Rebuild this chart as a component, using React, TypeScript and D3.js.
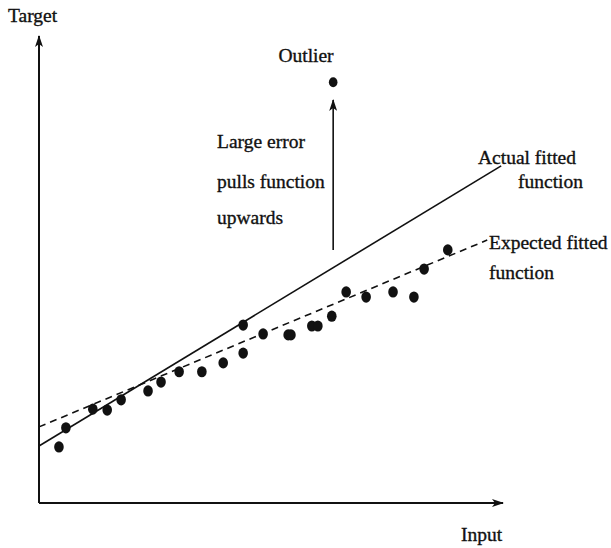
import * as d3 from 'd3';

// data (arbitrary units, 0..100 on both axes)
const pointX = [4.3, 5.8, 11.6, 14.7, 17.7, 23.5, 26.3, 30.2, 35.1, 39.7, 44.0, 44.0, 48.3, 53.7, 54.3, 58.8, 60.1, 63.1, 66.2, 70.5, 76.3, 80.8, 83.0, 88.1]
const pointY = [12.0, 16.1, 20.1, 19.9, 22.1, 24.0, 25.9, 28.1, 28.1, 30.0, 32.1, 38.1, 36.2, 36.0, 36.0, 37.9, 37.9, 40.0, 45.2, 44.1, 45.2, 44.1, 50.1, 54.2]
const outlier = [63.4, 90.1]
const outlierArrowFrom = 54.2
const outlierArrowTo = 86.3

// fitted lines as [x, y] endpoints
const actualLine: [number, number][] = [[0, 12.2], [99.6, 72.2]]
const expectedLine: [number, number][] = [[0, 16.3], [96.6, 56.3]]

const width = 611
const height = 548

const x = d3.scaleLinear().domain([0, 100]).range([39, 503])
const y = d3.scaleLinear().domain([0, 100]).range([503, 36])

const line = d3.line<[number, number]>()
    .x(d => x(d[0]))
    .y(d => y(d[1]))

const font = '"Liberation Serif", "Times New Roman", serif'

const App = () => {
    const points = pointX.map((px, i) => ({ x: px, y: pointY[i] }))

    return (
        <svg width={width} height={height} style={{ position: 'absolute', left: 0, top: 0, background: '#fff' }}>
            <defs>
                <marker id="arrow" viewBox="0 0 12 8" refX="11" refY="4" markerWidth="12" markerHeight="8" markerUnits="userSpaceOnUse" orient="auto">
                    <path d="M0,0 L12,4 L0,8 L3,4 Z" fill="#111" />
                </marker>
            </defs>

            {/* axes */}
            <line x1={x(0)} y1={y(0)} x2={x(0)} y2={y(100)} stroke="#111" strokeWidth={2} markerEnd="url(#arrow)" />
            <line x1={x(0)} y1={y(0)} x2={x(100)} y2={y(0)} stroke="#111" strokeWidth={2} markerEnd="url(#arrow)" />

            {/* fitted functions */}
            <path d={line(actualLine) ?? ''} fill="none" stroke="#111" strokeWidth={1.6} />
            <path d={line(expectedLine) ?? ''} fill="none" stroke="#111" strokeWidth={1.6} strokeDasharray="7,5" />

            {/* data */}
            {points.map((p, i) => (
                <ellipse key={i} cx={x(p.x)} cy={y(p.y)} rx={4.8} ry={5.6} fill="#111" />
            ))}
            <ellipse cx={x(outlier[0])} cy={y(outlier[1])} rx={4.3} ry={4.9} fill="#111" />

            {/* outlier arrow */}
            <line x1={x(outlier[0])} y1={y(outlierArrowFrom)} x2={x(outlier[0])} y2={y(outlierArrowTo)} stroke="#111" strokeWidth={1.6} markerEnd="url(#arrow)" />

            <g fontFamily={font} fontSize={19.5} fill="#111" stroke="#111" strokeWidth={0.35}>
                <text x={8} y={22}>Target</text>
                <text x={461} y={541}>Input</text>
                <text x={306} y={62} textAnchor="middle">Outlier</text>
                <text x={217} y={148}>Large error</text>
                <text x={217} y={188}>pulls function</text>
                <text x={217} y={224}>upwards</text>
                <text x={478} y={164}>Actual fitted</text>
                <text x={518} y={188}>function</text>
                <text x={489} y={249}>Expected fitted</text>
                <text x={489} y={279}>function</text>
            </g>
        </svg>
    )
}

export default App
